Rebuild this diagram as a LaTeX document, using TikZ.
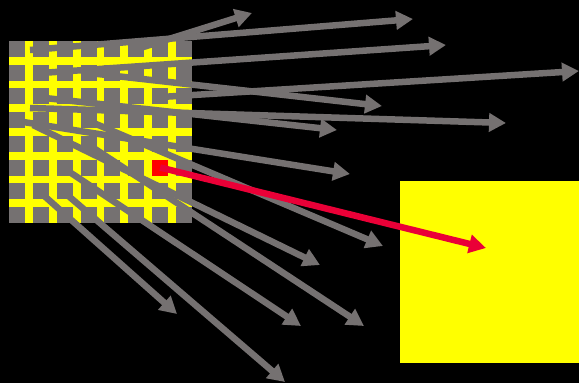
\documentclass[tikz,border=0pt]{standalone}
\usepackage{xcolor}
\usepackage{tikz}
\usetikzlibrary{arrows.meta}
\definecolor{rfyellow}{HTML}{FFFF00}
\definecolor{rfgray}{HTML}{757171}
\definecolor{rfred}{HTML}{FF0000}
\definecolor{rfcrimson}{HTML}{EA0037}
\tikzset{
  field/.style={fill=rfyellow,inner sep=0pt,outer sep=0pt},
  cell/.style={fill=rfgray,minimum size=16pt,inner sep=0pt,outer sep=0pt},
  hot/.style={cell,fill=rfred},
  ray/.style={-{Triangle[length=17pt,width=18pt]},line width=6.5pt,color=rfgray},
  hotray/.style={ray,color=rfcrimson},
}

\begin{document}
\begin{tikzpicture}[x=1pt,y=-1pt]
\useasboundingbox (0,0) rectangle (579,383);
\fill[black] (0,0) rectangle (579,383);
\node[field,minimum width=183pt,minimum height=182pt] (patch) at (100.5,132) {};
\node[field,minimum width=179pt,minimum height=182pt] (target) at (489.5,272) {};
\foreach \i in {0,...,7}
  \foreach \j in {0,...,7}
    \node[cell] (c\i\j) at ({17+23.85*\i},{49+23.7*\j}) {};
% rays out of the patch
\foreach \n/\sx/\sy/\tx/\ty in {1/137/49/252/13, 2/30/50/413/19, 3/41/73/446/45,
    4/161/97/579/71, 5/89/73/382/106, 6/45/98/337/130, 7/30/108/506/123,
    8/17/121/350/174, 9/89/121/383/246, 10/33/125/320/265, 11/41/193/177/314,
    12/65/169/301/326, 13/89/145/364/326, 14/65/193/285/382}{
  \coordinate (s\n) at (\sx,\sy);
  \coordinate (t\n) at (\tx,\ty);
  \draw[ray] (s\n) -- (t\n);
}
\node[hot] (hot) at (c65) {};
\coordinate (aim) at (486,248);
\draw[hotray] (hot.center) -- (aim);
\end{tikzpicture}
\end{document}
